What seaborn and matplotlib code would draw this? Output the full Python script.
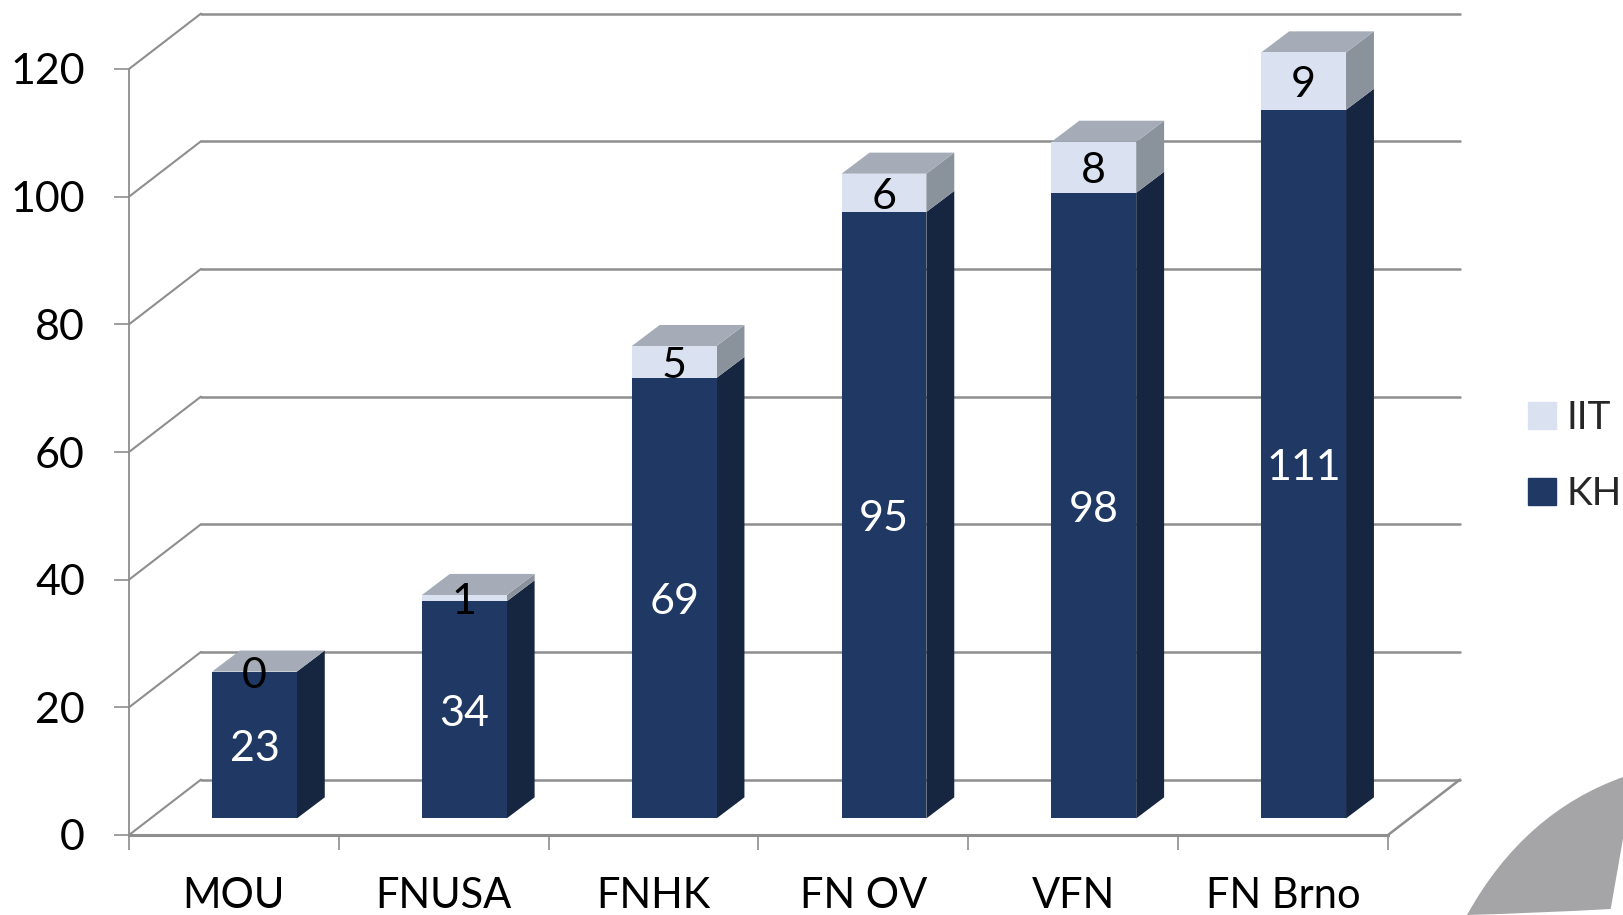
import matplotlib
matplotlib.use('Agg')
import matplotlib.pyplot as plt
import seaborn as sns
import pandas as pd
from matplotlib.patches import Patch, PathPatch, Polygon
from matplotlib.path import Path

categories = ['MOU', 'FNUSA', 'FNHK', 'FN OV', 'VFN', 'FN Brno']
kh_values = [23, 34, 69, 95, 98, 111]
iit_values = [0, 1, 5, 6, 8, 9]
y_ticks = [0, 20, 40, 60, 80, 100, 120]

NAVY = '#1F3864'
NAVY_SIDE = '#162640'
LIGHT = '#DAE1F0'
LIGHT_SIDE = '#8A929C'
TOP = '#A5ACB8'
GRID = '#8E8E8E'
FONT_SIZE = 31

# pseudo 3D depth, in category units / value units
WALL_DX, WALL_DY = 0.343, 8.68
BAR_DX, BAR_DY = 0.133, 3.3
SHIFT_X, SHIFT_Y = 0.098, 2.6

sns.set_style('white')
plt.rcParams['font.family'] = ['Lato', 'DejaVu Sans']

df = pd.DataFrame({'site': categories, 'KH': kh_values, 'IIT': iit_values})

fig = plt.figure(figsize=(16.24, 9.15), dpi=100)
ax = fig.add_axes([129 / 1624, 80 / 915, 1259 / 1624, 766 / 915])
ax.patch.set_alpha(0)

sns.barplot(data=df, x='site', y='KH', color=NAVY, saturation=1, width=0.404, linewidth=0, ax=ax, zorder=3)
sns.barplot(data=df, x='site', y='IIT', color=LIGHT, saturation=1, width=0.404, linewidth=0, ax=ax, zorder=3)
kh_bars, iit_bars = ax.containers

ax.set_xlim(-0.5, 5.5)
ax.set_ylim(0, 120)

# back wall and floor
for tick in y_ticks:
    ax.plot([-0.5, -0.5 + WALL_DX], [tick, tick + WALL_DY], color=GRID, lw=1.5, clip_on=False, zorder=1)
    ax.plot([-0.5 + WALL_DX, 5.5 + WALL_DX], [tick + WALL_DY, tick + WALL_DY], color=GRID, lw=1.8, clip_on=False, zorder=1)
ax.plot([5.5, 5.5 + WALL_DX], [0, WALL_DY], color=GRID, lw=1.8, clip_on=False, zorder=1)


def add_side(x, y0, y1, color):
    pts = [(x, y0), (x + BAR_DX, y0 + BAR_DY), (x + BAR_DX, y1 + BAR_DY), (x, y1)]
    ax.add_patch(Polygon(pts, closed=True, fc=color, ec='none', clip_on=False, zorder=2))


def add_label(x, y, text, color):
    ax.annotate(text, (x, y), xytext=(0, -3), textcoords='offset points', color=color,
                fontsize=FONT_SIZE, ha='center', va='center', zorder=5, annotation_clip=False)


for kh_bar, iit_bar, kh, iit in zip(kh_bars, iit_bars, kh_values, iit_values):
    # move bars to the middle of the floor and stack them
    left = kh_bar.get_x() + SHIFT_X
    kh_bar.set_x(left)
    kh_bar.set_y(SHIFT_Y)
    iit_bar.set_x(left)
    iit_bar.set_y(SHIFT_Y + kh)
    kh_bar.set_clip_on(False)
    iit_bar.set_clip_on(False)

    width = kh_bar.get_width()
    right = left + width
    top = SHIFT_Y + kh + iit
    add_side(right, SHIFT_Y, SHIFT_Y + kh, NAVY_SIDE)
    add_side(right, SHIFT_Y + kh, top, LIGHT_SIDE)
    roof = [(left, top), (right, top), (right + BAR_DX, top + BAR_DY), (left + BAR_DX, top + BAR_DY)]
    ax.add_patch(Polygon(roof, closed=True, fc=TOP, ec='none', clip_on=False, zorder=2))

    center = left + width / 2
    add_label(center, SHIFT_Y + kh / 2, str(kh), 'white')
    add_label(center, SHIFT_Y + kh + iit / 2, str(iit), 'black')

# axes
sns.despine(ax=ax)
ax.spines['left'].set_color(GRID)
ax.spines['left'].set_linewidth(1.3)
ax.spines['bottom'].set_color(GRID)
ax.spines['bottom'].set_linewidth(2.2)
ax.set_xlabel('')
ax.set_ylabel('')
ax.set_yticks(y_ticks)
ax.tick_params(axis='y', left=True, length=10.8, width=1.2, color=GRID, pad=21, labelsize=FONT_SIZE, labelcolor='black')
ax.set_xticks(range(len(categories)))
ax.set_xticklabels(categories)
ax.tick_params(axis='x', which='major', bottom=False, length=0, pad=30, labelsize=30, labelcolor='black')
ax.set_xticks([i - 0.5 for i in range(len(categories) + 1)], minor=True)
ax.tick_params(axis='x', which='minor', bottom=True, length=10.8, width=1.2, color=GRID)

handles = [Patch(color=LIGHT, label='IIT'), Patch(color=NAVY, label='KH')]
fig.legend(handles=handles, loc='center left', bbox_to_anchor=(1528 / 1624, 1 - 456 / 915),
           frameon=False, fontsize=28, handlelength=0.72, handleheight=0.72,
           handletextpad=0.28, labelspacing=1.03, borderpad=0, borderaxespad=0)

# grey slide decoration in the corner
verts = [(1624, 776.7), (1524, 812), (1467, 915), (1540, 913), (1610.7, 909), (1624, 833), (1624, 776.7)]
codes = [Path.MOVETO, Path.CURVE3, Path.CURVE3, Path.CURVE3, Path.CURVE3, Path.LINETO, Path.CLOSEPOLY]
corner = Path([(x / 1624, 1 - y / 915) for x, y in verts], codes)
fig.add_artist(PathPatch(corner, fc='#A5A5A8', ec='none', transform=fig.transFigure))

plt.savefig('out.png', dpi=100)
plt.close()
